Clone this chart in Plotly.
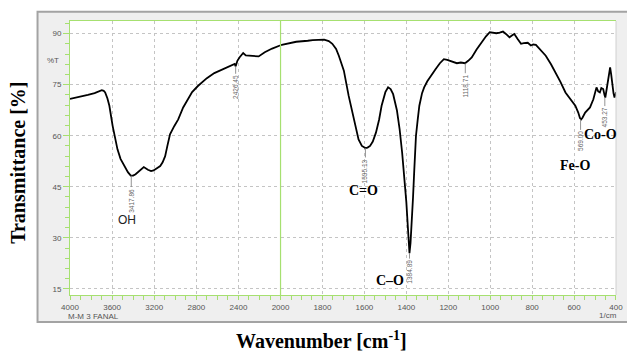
import plotly.graph_objects as go

# ---- data (FTIR spectrum) ----
wavenumber = [4000, 3950, 3891, 3830, 3766, 3720, 3698, 3680, 3666, 3645, 3626, 3595, 3570, 3549,
              3520, 3486, 3450, 3423, 3400, 3377, 3340, 3310, 3299, 3260, 3230, 3206, 3170, 3143,
              3120, 3096, 3075, 3050, 3010, 2972, 2925, 2880, 2840, 2785, 2700, 2629, 2550, 2474,
              2436, 2426, 2410, 2390, 2355, 2330, 2287, 2240, 2208, 2150, 2080, 2006, 2000,
              1948, 1925, 1870, 1847, 1792, 1770, 1753, 1735, 1722, 1698, 1675, 1651, 1628, 1612,
              1601, 1595, 1585, 1573, 1560, 1545, 1530, 1518, 1500, 1487, 1475, 1463, 1445, 1432,
              1420, 1408, 1400, 1393, 1388, 1385, 1380, 1373, 1368, 1362, 1354, 1346, 1338, 1325,
              1315, 1300, 1284, 1270, 1260, 1240, 1221, 1205, 1190, 1175, 1159, 1140, 1120, 1105,
              1088, 1065, 1041, 1020, 1002, 985, 971, 955, 939, 925, 908, 895, 885, 870, 853, 840,
              821, 806, 795, 782, 760, 735, 710, 688, 665, 641, 620, 594, 580, 572, 566, 560, 547,
              535, 524, 508, 493, 485, 477, 470, 461, 455, 451, 445, 438, 432, 428, 423, 418, 412,
              407, 400]
transmittance = [70.8, 71.1, 71.5, 72.0, 72.5, 73.0, 73.4, 73.2, 72.7, 71.0, 68.8, 62.9, 58.8, 56.0,
                 53.2, 51.1, 49.3, 48.3, 48.3, 48.7, 49.8, 50.6, 50.8, 50.0, 49.6, 49.8, 50.5, 51.1,
                 52.2, 54.0, 57.0, 60.4, 62.8, 64.8, 68.3, 70.8, 72.8, 74.6, 76.9, 78.4, 79.6, 80.6,
                 81.1, 80.4, 82.0, 83.0, 84.3, 83.6, 83.5, 83.4, 83.3, 84.5, 85.6, 86.5, 86.6,
                 87.3, 87.6, 87.9, 88.1, 88.2, 87.8, 87.0, 85.5, 83.5, 79.1, 71.7, 64.8, 58.9, 57.0,
                 56.5, 56.4, 56.5, 57.0, 58.3, 60.9, 64.7, 68.8, 72.8, 74.2, 73.7, 72.2, 67.5, 61.9,
                 55.0, 47.1, 40.5, 33.4, 28.0, 25.5, 28.5, 35.3, 42.0, 50.1, 60.0, 64.6, 68.8, 72.5,
                 74.2, 76.0, 77.6, 78.8, 79.6, 81.3, 82.5, 82.3, 82.0, 81.5, 81.3, 81.5, 81.3, 82.0,
                 83.0, 85.3, 87.5, 89.2, 90.4, 90.3, 90.1, 90.3, 90.6, 89.9, 88.9, 89.5, 89.9, 88.5,
                 87.0, 87.2, 87.3, 86.5, 86.8, 86.7, 85.3, 83.5, 81.0, 78.6, 75.8, 72.7, 71.0, 68.8,
                 66.8, 65.2, 64.8, 65.3, 66.8, 67.5, 68.3, 70.7, 74.2, 73.0, 72.7, 74.0, 73.7, 72.0,
                 71.2, 73.5, 76.6, 79.0, 80.1, 78.0, 74.7, 72.5, 71.2, 72.8]

y_ticks = [15, 30, 45, 60, 75, 90]
x_ticks_high = [4000, 3600, 3200, 2800, 2400, 2000]
x_ticks_low = [1800, 1600, 1400, 1200, 1000, 800, 600, 400]

peak_wn = [3417.86, 2426.45, 1595.13, 1384.89, 1118.71, 569.00, 453.27]
peak_t = [48.3, 80.4, 56.4, 25.5, 81.3, 64.8, 71.2]
peak_offset = [25, 21, 23, 19, 23, 22, 20]

band_labels = ["OH", "C=O", "C–O", "Fe-O", "Co-O"]
band_wn = [3458, 1606, 1479, 597, 475]
band_t = [35.3, 44.0, 17.6, 51.3, 60.4]

GREEN = "#a6e070"
GRID = "#c4c4c4"
TICKFONT = dict(family="Liberation Sans, Arial", size=8, color="#555555")
SPLIT = 0.3856
PW, PH = 555.0, 274.0   # plot area size in px
PB = 295.0              # plot bottom in reference px
PL = 70.0               # plot left in reference px

def px(xp):
    return (xp - PL) / PW

def py(yp):
    return (PB - yp) / PH

hi = [(w, t) for w, t in zip(wavenumber, transmittance) if w >= 2000]
lo = [(w, t) for w, t in zip(wavenumber, transmittance) if w <= 2000]

fig = go.Figure()
fig.add_trace(go.Scatter(x=[p[0] for p in hi], y=[p[1] for p in hi], mode="lines",
                         line=dict(color="black", width=1.8), xaxis="x", yaxis="y",
                         showlegend=False, hoverinfo="skip"))
fig.add_trace(go.Scatter(x=[p[0] for p in lo], y=[p[1] for p in lo], mode="lines",
                         line=dict(color="black", width=1.8), xaxis="x2", yaxis="y",
                         showlegend=False, hoverinfo="skip"))

common_x = dict(showgrid=True, gridcolor=GRID, griddash="dot", gridwidth=1,
                showline=True, linecolor=GREEN, linewidth=1, mirror=True,
                ticks="outside", ticklen=4, tickcolor=GREEN, tickfont=TICKFONT,
                zeroline=False, fixedrange=True)

# page body has an 8px margin, so the figure is 8px smaller and everything shifts by 8px
fig.update_layout(
    width=627, height=347,
    margin=dict(l=62, r=10, t=13, b=60),
    paper_bgcolor="white", plot_bgcolor="rgba(0,0,0,0)",
    xaxis=dict(domain=[0, SPLIT], range=[4000, 2000], tickmode="array", tickvals=x_ticks_high,
               minor=dict(tickmode="linear", tick0=0, dtick=100, ticks="outside", ticklen=4,
                          tickcolor=GREEN, showgrid=False),
               anchor="y", **common_x),
    xaxis2=dict(domain=[SPLIT, 1], range=[2000, 400], tickmode="array", tickvals=x_ticks_low,
                minor=dict(tickmode="linear", tick0=0, dtick=50, ticks="outside", ticklen=4,
                           tickcolor=GREEN, showgrid=False),
                anchor="y", **common_x),
    yaxis=dict(range=[13.2, 93.7], tickmode="array", tickvals=y_ticks,
               minor=dict(tickmode="linear", tick0=0, dtick=3, ticks="outside", ticklen=4,
                          tickcolor=GREEN, showgrid=False),
               showgrid=True, gridcolor=GRID, griddash="dot", gridwidth=1,
               showline=True, linecolor=GREEN, linewidth=1,
               ticks="outside", ticklen=6, tickcolor=GREEN, tickfont=TICKFONT,
               zeroline=False, fixedrange=True, anchor="x"),
)

# outer instrument frame and white plot area
fig.add_shape(type="rect", xref="paper", yref="paper", x0=px(37), x1=px(650), y0=py(322), y1=py(11.7),
              fillcolor="#efefef", line=dict(color="#a3a3a3", width=2), layer="below")
fig.add_shape(type="rect", xref="paper", yref="paper", x0=0, x1=1, y0=0, y1=1,
              fillcolor="white", line=dict(width=0), layer="below")
# scale-change line at 2000 1/cm
fig.add_shape(type="line", xref="paper", yref="paper", x0=SPLIT, x1=SPLIT, y0=0, y1=1,
              line=dict(color=GREEN, width=1.2))
# right edge
fig.add_shape(type="line", xref="paper", yref="paper", x0=1, x1=1, y0=0, y1=1,
              line=dict(color="#d0d0d0", width=1))

# peak-pick labels
for w, t, off in zip(peak_wn, peak_t, peak_offset):
    xr = "x" if w >= 2000 else "x2"
    fig.add_annotation(x=w, y=t, xref=xr, yref="y", text=f"{w:.2f}", textangle=-90,
                       showarrow=True, arrowhead=0, arrowwidth=0.8, arrowcolor="#777777",
                       ax=0, ay=off, standoff=0,
                       font=dict(family="Liberation Sans, Arial", size=6.5, color="#666666"))

# band assignments
for lab, w, t in zip(band_labels, band_wn, band_t):
    xr = "x" if w >= 2000 else "x2"
    if lab == "OH":
        f = dict(family="Liberation Sans, Arial", size=12, color="#222222")
    else:
        f = dict(family="Liberation Serif, Times New Roman", size=14, color="black")
    txt = lab if lab == "OH" else f"<b>{lab}</b>"
    fig.add_annotation(x=w, y=t, xref=xr, yref="y", text=txt, showarrow=False, font=f,
                       xanchor="center", yanchor="middle")

# instrument texts
C = dict(xref="paper", yref="paper", showarrow=False, xanchor="center", yanchor="middle")
fig.add_annotation(x=px(52.5), y=py(60), text="%T", font=TICKFONT, **C)
fig.add_annotation(x=px(94), y=py(316.5), text="M-M 3 FANAL", font=TICKFONT, **C)
fig.add_annotation(x=px(616.7), y=py(315), text="1/cm", font=TICKFONT, **C)

# axis titles
TITLEFONT = dict(family="Liberation Serif, Times New Roman", size=20, color="black")
fig.add_annotation(x=px(326), y=py(340), text="<b>Wavenumber [cm<sup>-1</sup>]</b>",
                   font=TITLEFONT, **C)
fig.add_annotation(x=px(17), y=py(163), text="<b>Transmittance [%]</b>", textangle=-90,
                   font=TITLEFONT, **C)

fig.write_html("out.html")
